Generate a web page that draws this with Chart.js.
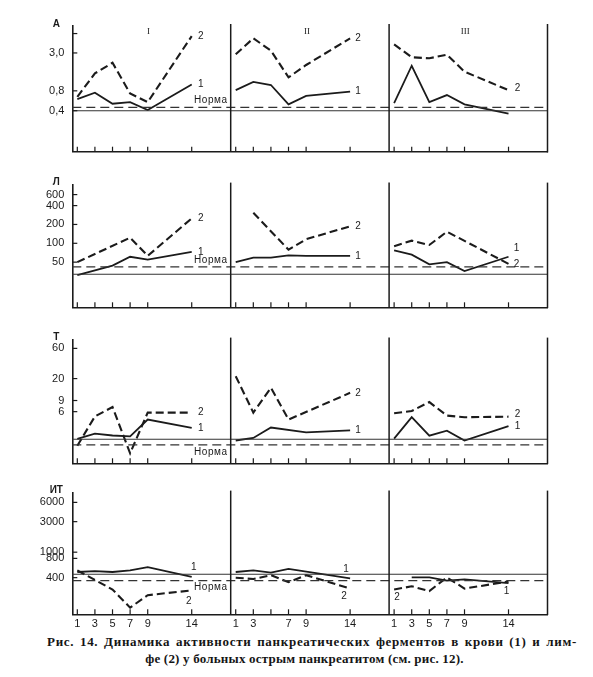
<!DOCTYPE html>
<html>
<head>
<meta charset="utf-8">
<script src="https://cdn.jsdelivr.net/npm/chart.js@4.4.1/dist/chart.umd.min.js"></script>
<style>
    body { margin: 0; background: #fff; width: 593px; height: 677px; position: relative; overflow: hidden; }
    canvas { position: absolute; left: 0; }
    .cap { position: absolute; font-family: "Liberation Serif", serif; font-weight: bold; font-size: 13px; color: #151515; white-space: nowrap; }
</style>
</head>
<body>
<canvas id="rowA" width="593" height="170" style="top:0px"></canvas>
<canvas id="rowL" width="593" height="155" style="top:170px"></canvas>
<canvas id="rowT" width="593" height="153" style="top:325px"></canvas>
<canvas id="rowI" width="593" height="154" style="top:478px"></canvas>
<div class="cap" id="cap1" style="top:634px;left:47px;width:530px;text-align:justify;text-align-last:justify;white-space:normal;letter-spacing:0.7px">Рис. 14. Динамика активности панкреатических ферментов в крови (1) и лим-</div>
<div class="cap" id="cap2" style="top:651px;left:8px;width:593px;text-align:center;letter-spacing:0.2px">фе (2) у больных острым панкреатитом (см. рис. 12).</div>
<script>
// days of observation, same in every section (I, II, III)
const days = [1, 3, 5, 7, 9, 14];
const dayLabels = [
    ['1', '3', '5', '7', '9', '14'],
    ['1', '3', '', '7', '9', '14'],
    ['1', '3', '5', '7', '9', '14']
];
const sectionNames = ['I', 'II', 'III'];
const sectionSpan = 18;          // days per section on the shared x axis
const xRange = [0.43, 54.43];

// А — amylase; [section I, II, III], values for days 1,3,5,7,9,14
const amyBlood = [
    [0.60, 0.75, 0.51, 0.54, 0.41, 1.00],
    [0.82, 1.09, 0.98, 0.50, 0.67, 0.78],
    [0.52, 1.92, 0.54, 0.69, 0.50, 0.36]
];
const amyLymph = [
    [0.65, 1.47, 2.13, 0.73, 0.54, 5.4],
    [2.86, 5.0, 3.25, 1.28, 1.97, 5.0],
    [4.05, 2.58, 2.49, 2.82, 1.56, 0.82]
];
const amyNorm = [0.40, 0.45];    // blood (solid), lymph (dashed)
const amyTicks = [0.4, 0.8, 3.0, 5.9];
const amyTickText = ['0,4', '0,8', '3,0', ''];
const amyRange = [0.0957, 7.68];

// Л — lipase
const lipBlood = [
    [31, null, 44, 61, 55, 73],
    [50, 59, 59, 64, 63, 63],
    [77, 66, 46, 50, 36, 61]
];
const lipLymph = [
    [50, null, null, 123, 63, 250],
    [null, 307, null, 79, 116, 187],
    [90, 110, 94, 153, null, 47]
];
const lipNorm = [32, 42];
const lipTicks = [50, 100, 200, 400, 600];
const lipTickText = ['50', '100', '200', '400', '600'];
const lipRange = [9.5, 866];

// Т — trypsin
const tryBlood = [
    [2.22, 2.7, 2.52, 2.44, 4.5, 3.33],
    [2.1, 2.3, 3.37, null, 2.83, 3.03],
    [2.25, 4.9, 2.5, 3.0, 2.1, 3.53]
];
const tryLymph = [
    [1.73, 5.05, 7.1, 1.32, 5.8, 5.8],
    [21.8, 5.8, 14.3, 4.5, null, 11.9],
    [5.66, 6.15, 8.5, 5.2, 4.9, 5.0]
];
const tryNorm = [2.2, 1.79];
const tryTicks = [6, 9, 20, 60];
const tryTickText = ['6', '9', '20', '60'];
const tryRange = [0.916, 82.6];

// ИТ — trypsin inhibitor
const inhBlood = [
    [490, 507, 490, 519, 582, 412],
    [490, 519, 478, 548, null, 389],
    [null, 403, 403, 360, 376, 328]
];
const inhLymph = [
    [519, null, 261, 136, 213, 253],
    [399, 381, 437, 340, 437, 270],
    [261, 293, 247, 403, 270, 348]
];
const inhNorm = [453, 360];
const inhTicks = [400, 800, 1000, 3000, 6000];
const inhTickText = ['400', '800', '1000', '3000', '6000'];
const inhRange = [107, 8530];

const ink = '#1b1b1b';

// curve number labels: [text, section, series, anchor, dx, dy]
const stdLabels = [
    ['2', 0, 'lymph', 'end', 9, 0], ['1', 0, 'blood', 'end', 9, 0],
    ['2', 1, 'lymph', 'end', 8, 0], ['1', 1, 'blood', 'end', 8, 0],
    ['2', 2, 'lymph', 'end', 9, -2], ['1', 2, 'blood', 'end', 9, 0]
];

const rows = [
    { id: 'rowA', unit: 'A', blood: amyBlood, lymph: amyLymph, norm: amyNorm, ticks: amyTicks, tickText: amyTickText,
      range: amyRange, padTop: 26, xHeight: 18.3, normDy: -7, headers: true, showDays: false,
      labels: stdLabels.slice(0, 5) },
    { id: 'rowL', unit: 'Л', blood: lipBlood, lymph: lipLymph, norm: lipNorm, ticks: lipTicks, tickText: lipTickText,
      range: lipRange, padTop: 10, xHeight: 17.7, normDy: -7, headers: false, showDays: false,
      labels: stdLabels.slice(0, 4).concat([['1', 2, 'blood', 'end', 8, -8], ['2', 2, 'lymph', 'end', 8, 0]]) },
    { id: 'rowT', unit: 'T', blood: tryBlood, lymph: tryLymph, norm: tryNorm, ticks: tryTicks, tickText: tryTickText,
      range: tryRange, padTop: 8.3, xHeight: 14.7, normDy: 7, headers: false, showDays: false,
      labels: stdLabels },
    { id: 'rowI', unit: 'ИТ', blood: inhBlood, lymph: inhLymph, norm: inhNorm, ticks: inhTicks, tickText: inhTickText,
      range: inhRange, padTop: 8.7, xHeight: 17.7, normDy: 7, headers: false, showDays: true,
      labels: [
          ['1', 0, 'blood', 'end', 2, -10], ['2', 0, 'lymph', 'end', -3, 11],
          ['1', 1, 'blood', 'end', -4, -9], ['2', 1, 'lymph', 'end', -6, 8],
          ['2', 2, 'lymph', 'start', 3, 8], ['1', 2, 'blood', 'end', -2, 8]
      ] }
];

function sectionPoints(values, s) {
    return days.map((d, i) => ({ x: d + s * sectionSpan, y: values[i] }));
}

function line(ctx, x1, y1, x2, y2) {
    ctx.beginPath();
    ctx.moveTo(x1, y1);
    ctx.lineTo(x2, y2);
    ctx.stroke();
}

const framePlugin = {
    id: 'frame',
    afterDraw(chart) {
        const row = chart.options.plugins.frame.row;
        const { ctx, chartArea: a } = chart;
        const x = chart.scales.x, y = chart.scales.y;
        ctx.save();
        ctx.strokeStyle = ink;
        ctx.lineWidth = 1.5;
        // section dividers and right frame
        [1, 2].forEach(k => {
            const px = x.getPixelForValue(xRange[0] + k * sectionSpan);
            line(ctx, px, a.top - 2, px, a.bottom);
        });
        line(ctx, a.right, a.top - 2, a.right, a.bottom + 0.7);
        // tick marks drawn inward
        ctx.lineWidth = 1.2;
        y.ticks.forEach(t => {
            const py = y.getPixelForValue(t.value);
            line(ctx, a.left, py, a.left + 5, py);
        });
        x.ticks.forEach(t => {
            const px = x.getPixelForValue(t.value);
            line(ctx, px, a.bottom, px, a.bottom - 5);
        });

        ctx.fillStyle = ink;
        ctx.textBaseline = 'middle';
        // unit label
        ctx.textAlign = 'center';
        ctx.font = 'bold 10px "Liberation Sans", sans-serif';
        ctx.fillText(row.unit, a.left - 16, a.top - 2);

        // section headers
        if (row.headers) {
            ctx.font = '9px "Liberation Serif", serif';
            sectionNames.forEach((n, k) => {
                const px = x.getPixelForValue(xRange[0] + k * sectionSpan + sectionSpan / 2);
                ctx.fillText(n, px - 3, a.top + 6);
            });
        }

        // "Норма" caption near the dashed norm line, end of section I
        ctx.font = '10px "Liberation Sans", sans-serif';
        ctx.textAlign = 'right';
        const normY = y.getPixelForValue(row.norm[1]);
        const divX = x.getPixelForValue(xRange[0] + sectionSpan);
        if ('letterSpacing' in ctx) ctx.letterSpacing = '0.6px';
        ctx.fillText('Норма', divX - 3, normY + row.normDy);
        if ('letterSpacing' in ctx) ctx.letterSpacing = '0px';

        // curve numbers
        ctx.textAlign = 'center';
        ctx.font = '10px "Liberation Sans", sans-serif';
        row.labels.forEach(([txt, s, series, at, dx, dy]) => {
            const vals = row[series][s];
            let idx = -1;
            vals.forEach((v, i) => { if (v !== null && (at === 'end' || idx < 0)) idx = i; });
            const px = x.getPixelForValue(days[idx] + s * sectionSpan);
            const py = y.getPixelForValue(vals[idx]);
            ctx.fillText(txt, px + dx, py + dy);
        });
        ctx.restore();
    }
};

rows.forEach(row => {
    const datasets = [];
    // norm lines across the whole row
    datasets.push({
        data: [{ x: xRange[0], y: row.norm[0] }, { x: xRange[1], y: row.norm[0] }],
        borderColor: '#333', borderWidth: 1.1
    });
    datasets.push({
        data: [{ x: xRange[0], y: row.norm[1] }, { x: xRange[1], y: row.norm[1] }],
        borderColor: '#333', borderWidth: 1.1, borderDash: [9, 5]
    });
    for (let s = 0; s < 3; s++) {
        datasets.push({
            data: sectionPoints(row.blood[s], s),
            borderColor: ink, borderWidth: 1.8, spanGaps: true
        });
        datasets.push({
            data: sectionPoints(row.lymph[s], s),
            borderColor: ink, borderWidth: 2.1, borderDash: [8, 4], spanGaps: true
        });
    }

    const canvas = document.getElementById(row.id);
    new Chart(canvas.getContext('2d'), {
        type: 'line',
        data: { datasets: datasets },
        options: {
            responsive: false,
            animation: false,
            devicePixelRatio: 1,
            layout: { padding: { left: 0, right: 45.5, top: row.padTop, bottom: 0 } },
            elements: { point: { radius: 0 }, line: { tension: 0, borderCapStyle: 'butt' } },
            plugins: { legend: { display: false }, tooltip: { enabled: false }, frame: { row: row } },
            scales: {
                x: {
                    type: 'linear',
                    min: xRange[0],
                    max: xRange[1],
                    grid: { display: false, drawTicks: false },
                    border: { display: true, color: ink, width: 1.6 },
                    afterBuildTicks: scale => {
                        scale.ticks = [];
                        for (let s = 0; s < 3; s++) {
                            days.forEach(d => scale.ticks.push({ value: d + s * sectionSpan }));
                        }
                    },
                    ticks: {
                        display: row.showDays,
                        autoSkip: false,
                        maxRotation: 0,
                        padding: 3,
                        color: ink,
                        font: { family: '"Liberation Sans", sans-serif', size: 11 },
                        callback: (value, index) => dayLabels[Math.floor(index / days.length)][index % days.length]
                    },
                    afterFit: scale => { scale.height = row.xHeight; }
                },
                y: {
                    type: 'logarithmic',
                    min: row.range[0],
                    max: row.range[1],
                    grid: { display: false, drawTicks: false },
                    border: { display: true, color: ink, width: 1.6 },
                    afterBuildTicks: scale => {
                        scale.ticks = row.ticks.map(v => ({ value: v }));
                    },
                    ticks: {
                        autoSkip: false,
                        padding: 8,
                        color: ink,
                        font: { family: '"Liberation Sans", sans-serif', size: 11 },
                        callback: (value, index) => row.tickText[index]
                    },
                    afterFit: scale => { scale.width = 72.3; }
                }
            }
        },
        plugins: [framePlugin]
    });
});
</script>
</body>
</html>
